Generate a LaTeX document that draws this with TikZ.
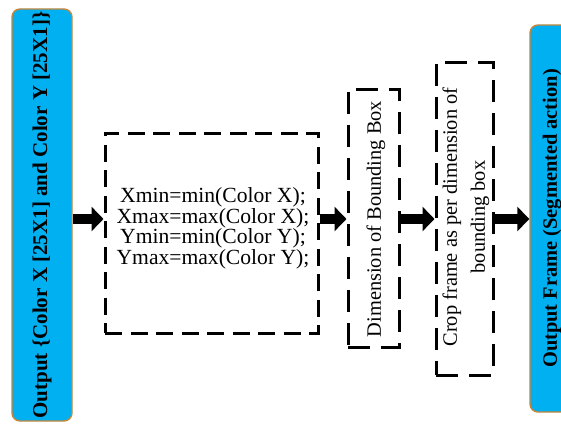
\documentclass[tikz,border=0pt]{standalone}
\usepackage{fontspec}
\setmainfont{Liberation Serif}
\usetikzlibrary{arrows.meta}
\definecolor{boxcyan}{RGB}{0,176,240}
\definecolor{boxedge}{RGB}{197,135,60}
\begin{document}
\begin{tikzpicture}[x=1pt,y=-1pt,
  bluebox/.style={draw=boxedge, line width=1.4pt, fill=boxcyan,
    rounded corners=8pt, inner sep=0pt, rotate=90,
    font=\fontsize{20.4}{24}\selectfont\bfseries},
  dashbox/.style={draw=black, line width=3pt, inner sep=0pt,
    dash pattern=on #1 off 0.5*#1},
  steptext/.style={inner sep=0pt, align=center},
  arr/.style={line width=10pt, -{Triangle[length=12pt,width=24pt]}}]
  % page frame
  \clip (0,0) rectangle (561,428);
  \fill[white] (0,0) rectangle (561,428);
  % row on which the arrows run
  \coordinate (row) at (0,219);

  % input block
  \node[bluebox, minimum width=412pt, minimum height=60pt,
    font=\fontsize{21}{24}\selectfont\bfseries] (input) at (42,215)
    {Output \{Color X [25X1] and Color Y [25X1]\}};

  % min / max computation
  \node[dashbox=17pt, minimum width=213pt, minimum height=200pt] (minmax) at (211.5,233) {};
  \node[steptext, font=\fontsize{21.6}{18.8}\selectfont] (minmaxtext) at (213,228.5)
    {Xmin=min(Color X);\\Xmax=max(Color X);\\Ymin=min(Color Y);\\Ymax=max(Color Y);};

  % bounding box dimension
  \node[dashbox=22pt, minimum width=51pt, minimum height=258pt] (bbox) at (373.5,218) {};
  \node[steptext, rotate=90, font=\fontsize{20.4}{24}\selectfont] (bboxtext) at (376,219)
    {Dimension of Bounding Box};

  % crop step
  \node[dashbox=22pt, minimum width=57pt, minimum height=313pt] (crop) at (464.5,218.5) {};
  \node[steptext, rotate=90, font=\fontsize{20.4}{28}\selectfont] (croptext) at (466,217)
    {Crop frame as per dimension of\\bounding box};

  % output block
  \node[bluebox, minimum width=387pt, minimum height=44pt] (output) at (552,218.5)
    {Output Frame (Segmented action)};

  % connectors
  \draw[arr] (input.south |- row) -- (minmax.west |- row);
  \draw[arr] (minmax.east |- row) -- (bbox.west |- row);
  \draw[arr] (bbox.east |- row) -- (crop.west |- row);
  \draw[arr] (crop.east |- row) -- (output.north |- row);
\end{tikzpicture}
\end{document}
